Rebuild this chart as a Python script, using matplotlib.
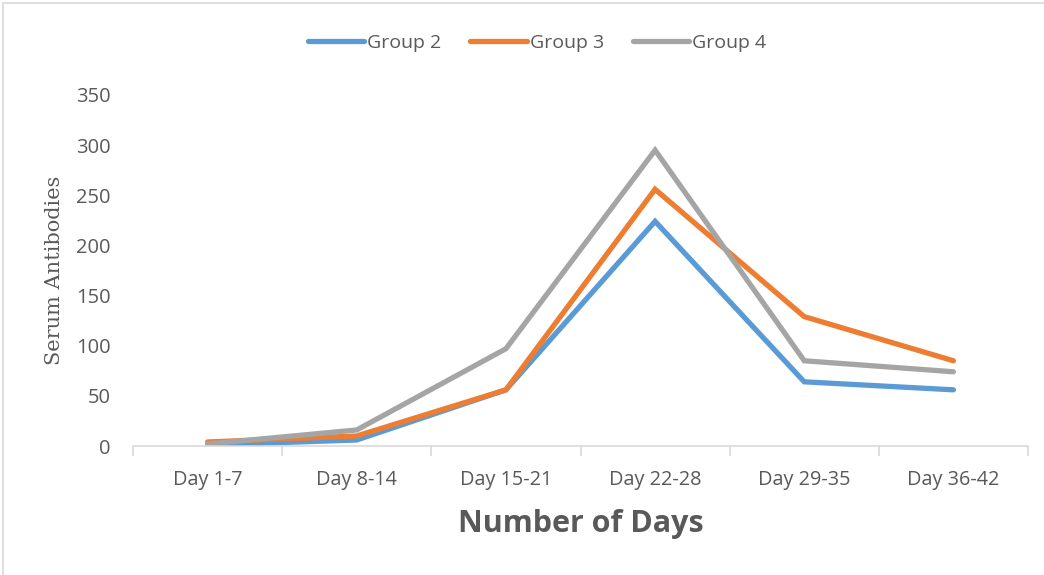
import matplotlib
matplotlib.use("Agg")
import matplotlib.pyplot as plt
from matplotlib.patches import Rectangle

categories = ["Day 1-7", "Day 8-14", "Day 15-21", "Day 22-28", "Day 29-35", "Day 36-42"]
group2 = [1, 6, 56, 224, 64, 56]
group3 = [4, 10, 56, 256, 129, 85]
group4 = [2, 16, 97, 295, 85, 74]
series_names = ["Group 2", "Group 3", "Group 4"]
yticks = [0, 50, 100, 150, 200, 250, 300, 350]

colors = ["#5B9BD5", "#ED7D31", "#A5A5A5"]
text_color = "#595959"
axis_color = "#D9D9D9"

fig = plt.figure(figsize=(10.44, 5.75), dpi=100)
ax = fig.add_axes([133 / 1044, 1 - 446 / 575, (1028 - 133) / 1044, (446 - 95) / 575])

x = list(range(len(categories)))
for vals, name, c in zip([group2, group3, group4], series_names, colors):
    ax.plot(x, vals, color=c, lw=3.8, label=name, solid_capstyle="round",
            solid_joinstyle="miter")

ax.set_xlim(-0.5, len(categories) - 0.5)
ax.set_ylim(0, 350)
ax.set_yticks(yticks)
ax.set_yticklabels([str(v) for v in yticks], fontsize=14.5, color=text_color,
                   family="Open Sans")
ax.tick_params(axis="y", length=0, pad=16)

ax.set_xticks(x)
ax.set_xticklabels(categories, fontsize=14.3, color=text_color, family="Open Sans")
ax.tick_params(axis="x", length=0, pad=17)
ax.set_xticks([i - 0.5 for i in range(len(categories) + 1)], minor=True)
ax.tick_params(axis="x", which="minor", length=7, width=1.2, color=axis_color)

for side in ["top", "right", "left"]:
    ax.spines[side].set_visible(False)
ax.spines["bottom"].set_color(axis_color)
ax.spines["bottom"].set_linewidth(1.2)

ax.set_xlabel("Number of Days", fontsize=22, fontweight="bold", color=text_color,
              family="Open Sans", labelpad=14)
ax.set_ylabel("Serum Antibodies", fontsize=15, color=text_color,
              family="DejaVu Serif")
ax.yaxis.set_label_coords(-0.077, 0.5)

fig.legend(loc="center", bbox_to_anchor=(537 / 1044, 1 - 43 / 575), ncol=3,
           frameon=False, handlelength=2.9, handletextpad=0.15, columnspacing=1.5,
           prop={"family": "Open Sans", "size": 14}, labelcolor=text_color)

fig.patches.append(Rectangle((3 / 1044, -0.05), 1.1, 1.05 - 3 / 575,
                             transform=fig.transFigure, fill=False,
                             edgecolor=axis_color, lw=1.2))

fig.savefig("out.png", dpi=100, facecolor="white")
